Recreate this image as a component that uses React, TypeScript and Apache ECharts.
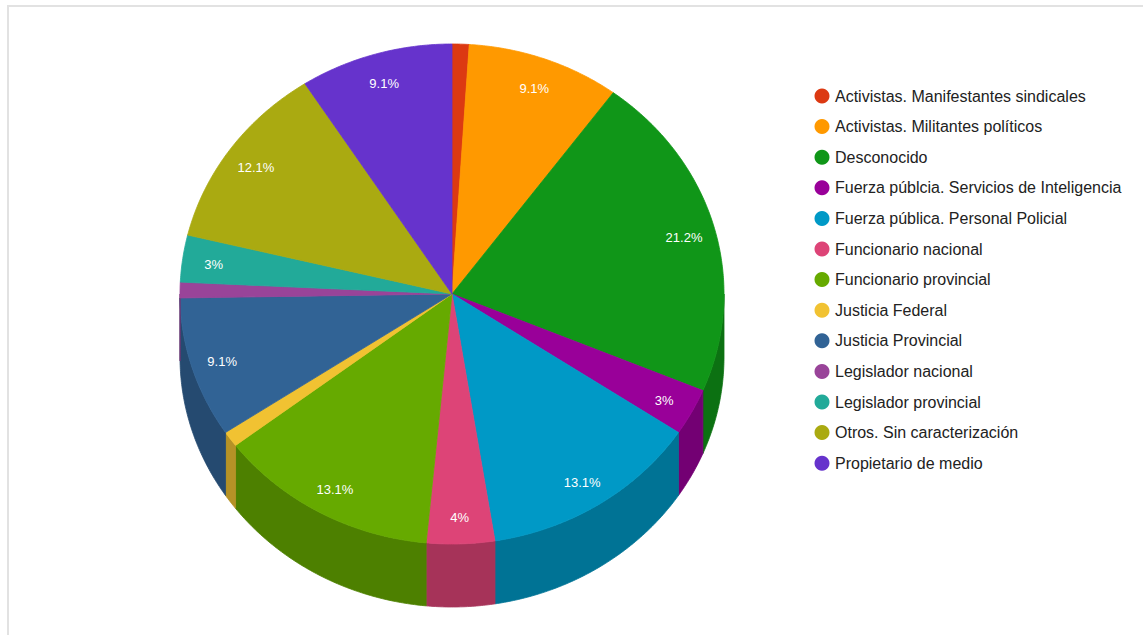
import React, { useEffect, useRef } from "react";
import * as echarts from "echarts";

const categories = [
  "Activistas. Manifestantes sindicales",
  "Activistas. Militantes políticos",
  "Desconocido",
  "Fuerza públcia. Servicios de Inteligencia",
  "Fuerza pública. Personal Policial",
  "Funcionario nacional",
  "Funcionario provincial",
  "Justicia Federal",
  "Justicia Provincial",
  "Legislador nacional",
  "Legislador provincial",
  "Otros. Sin caracterización",
  "Propietario de medio",
];
const values = [1, 9, 21, 3, 13, 4, 13, 1, 9, 1, 3, 12, 9];
const colors = [
  "#dc3912",
  "#ff9900",
  "#109618",
  "#990099",
  "#0099c6",
  "#dd4477",
  "#66aa00",
  "#f1c232",
  "#316395",
  "#994499",
  "#22aa99",
  "#aaaa11",
  "#6633cc",
];

const FONT = "Arial, 'Liberation Sans', sans-serif";

function shade(hex: string, f: number): string {
  const n = parseInt(hex.slice(1), 16);
  const r = Math.round(((n >> 16) & 255) * f);
  const g = Math.round(((n >> 8) & 255) * f);
  const b = Math.round((n & 255) * f);
  return `rgb(${r},${g},${b})`;
}

function fmtPct(v: number, total: number): string {
  const p = Math.round((v / total) * 1000) / 10;
  return `${p}%`;
}

export default function App() {
  const ref = useRef<HTMLDivElement>(null);
  useEffect(() => {
    if (!ref.current) return;
    const chart = echarts.init(ref.current, undefined, { renderer: "svg" });
    const total = values.reduce((a, b) => a + b, 0);
    const cum: number[] = [];
    let acc = 0;
    values.forEach((v) => {
      cum.push(acc);
      acc += v;
    });
    const cx = 452;
    const cy = 294;
    const rx = 272;
    const ry = 250;
    const depth = 63;
    const labelR = 0.885;
    const labelDy = 2;
    const P = (t: number, dy = 0, s = 1): number[] => [
      cx + rx * s * Math.sin(t),
      cy - ry * s * Math.cos(t) + dy,
    ];
    const arc = (a: number, b: number, dy: number): number[][] => {
      const pts: number[][] = [];
      const n = Math.max(2, Math.ceil(((b - a) * 180) / Math.PI / 0.5));
      for (let k = 0; k <= n; k++) pts.push(P(a + ((b - a) * k) / n, dy));
      return pts;
    };

    const option: any = {
      animation: false,
      graphic: [
        {
          type: "rect",
          shape: { x: 8, y: 6, width: 1300, height: 800 },
          style: { fill: "none", stroke: "#e2e2e2", lineWidth: 2 },
          silent: true,
          z: -10,
        },
      ],
      legend: {
        orient: "vertical",
        left: 809.5,
        top: 83,
        icon: "circle",
        itemWidth: 16,
        itemHeight: 15,
        itemGap: 14.6,
        data: categories,
        selectedMode: false,
        textStyle: {
          color: "#222222",
          fontSize: 16,
          lineHeight: 16,
          fontFamily: FONT,
        },
      },
      series: [
        {
          type: "custom",
          name: "pie3d",
          coordinateSystem: "none",
          silent: true,
          data: values.map((v, i) => ({ value: v, name: categories[i] })),
          renderItem: (params: any, api: any) => {
            const i = params.dataIndex;
            const v = api.value(0);
            const a0 = (cum[i] / total) * Math.PI * 2;
            const a1 = ((cum[i] + v) / total) * Math.PI * 2;
            const color = colors[i];
            const children: any[] = [];
            const fa = Math.max(a0, Math.PI / 2);
            const fb = Math.min(a1, (Math.PI * 3) / 2);
            if (fb > fa) {
              const top = arc(fa, fb, 0);
              const bot = arc(fa, fb, depth).reverse();
              const side = shade(color, 0.75);
              children.push({
                type: "polygon",
                shape: { points: top.concat(bot) },
                style: { fill: side, stroke: side, lineWidth: 0.8 },
              });
            }
            const topPts = [[cx, cy]].concat(arc(a0, a1, 0));
            children.push({
              type: "polygon",
              shape: { points: topPts },
              style: { fill: color, stroke: color, lineWidth: 0.8 },
            });
            if (v / total >= 0.02) {
              const m = (a0 + a1) / 2;
              const p = P(m, labelDy, labelR);
              children.push({
                type: "text",
                x: p[0],
                y: p[1],
                style: {
                  text: fmtPct(v, total),
                  fill: "#ffffff",
                  fontSize: 13,
                  fontFamily: FONT,
                  align: "center",
                  verticalAlign: "middle",
                },
                z2: 10,
              });
            }
            return { type: "group", children };
          },
        },
        {
          type: "pie",
          name: "legend",
          center: [-2000, -2000],
          radius: 1,
          silent: true,
          label: { show: false },
          labelLine: { show: false },
          data: values.map((v, i) => ({
            value: v,
            name: categories[i],
            itemStyle: { color: colors[i] },
          })),
        },
      ],
    };
    chart.setOption(option);
    return () => chart.dispose();
  }, []);
  return (
    <div
      ref={ref}
      style={{ position: "fixed", left: 0, top: 0, width: 1143, height: 635, background: "#fff" }}
    />
  );
}
